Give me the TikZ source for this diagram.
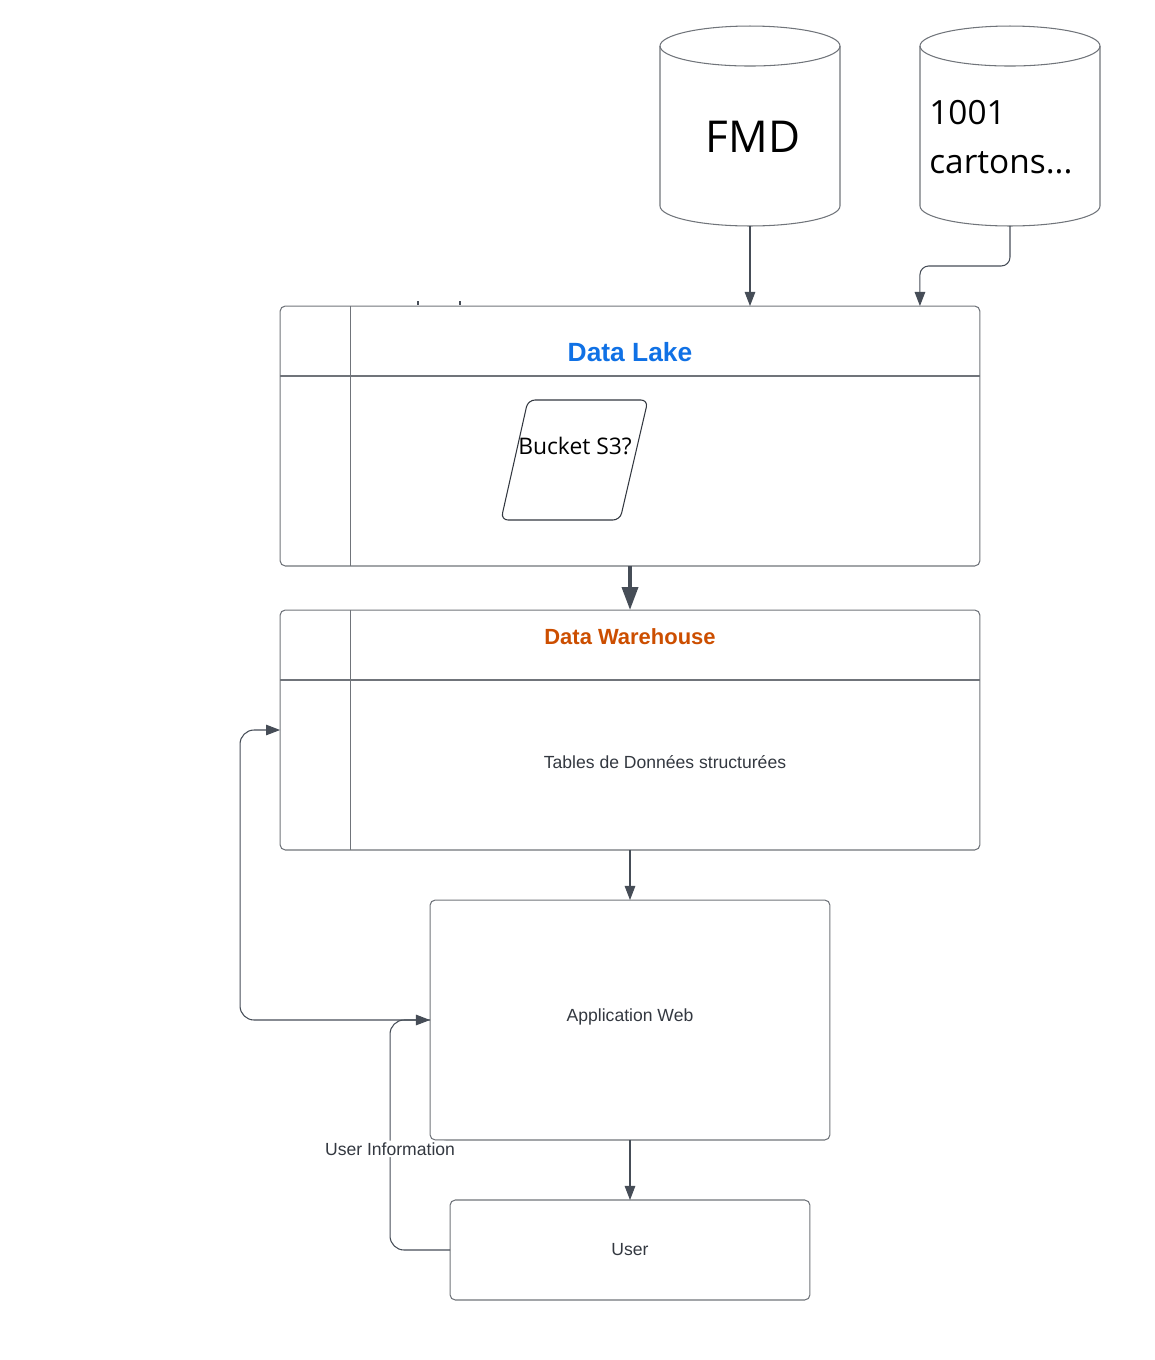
\documentclass[tikz,border=0pt]{standalone}
\usepackage{fontspec}
\setmainfont{Liberation Sans}
\newfontfamily\uifont{Open Sans}
\usetikzlibrary{arrows.meta}
\definecolor{lakeblue}{RGB}{16,113,229}
\definecolor{dwhorange}{RGB}{204,78,0}
\definecolor{boxline}{RGB}{112,116,122}
\definecolor{flowline}{RGB}{70,77,87}
\definecolor{txt}{RGB}{51,56,64}
\tikzset{
  % stile dei serbatoi in alto (il contorno si disegna dopo)
  dbtank/.style={
    rectangle, minimum width=3.6cm, minimum height=4cm, inner sep=0pt, outer sep=0pt,
    font=\uifont, text=black
  },
  % riquadri con intestazione
  lane/.style={
    draw=boxline, line width=0.6pt, rectangle, rounded corners=3pt,
    minimum width=14cm, inner sep=0pt, outer sep=0pt
  },
  plainbox/.style={
    draw=boxline, line width=0.6pt, rectangle, rounded corners=3pt,
    inner sep=0pt, outer sep=0pt, font=\fontsize{10}{12}\selectfont, text=txt
  },
  flow/.style={draw=flowline, line width=0.6pt, -{Triangle[length=8pt,width=6pt]}},
  bigflow/.style={draw=flowline, line width=2.2pt, -{Triangle[length=13pt,width=9pt]}},
  tag/.style={fill=white, inner sep=1pt, font=\fontsize{10}{12}\selectfont, text=txt}
}

\begin{document}
\begin{tikzpicture}[x=0.02cm, y=-0.02cm]
  \useasboundingbox (0,0) rectangle (1155,1360);

  % sorgenti
  \node[dbtank] (fmd) at (750,126) {};
  \node[dbtank] (cartons) at (1010,126) {};
  \foreach \t in {fmd,cartons} {
    \draw[boxline, line width=0.6pt] ([yshift=-0.4cm]\t.north west) -- ([yshift=0.4cm]\t.south west)
      arc[start angle=180, end angle=360, x radius=1.8cm, y radius=0.4cm]
      -- ([yshift=-0.4cm]\t.north east);
    \draw[boxline, line width=0.6pt] ([yshift=-0.4cm]\t.north) ellipse[x radius=1.8cm, y radius=0.4cm];
  }
  \node[font=\uifont\fontsize{25}{30}\selectfont, inner sep=0pt] (fmdtxt) at (753,137) {FMD};
  \node[anchor=north west, align=left, inner sep=0pt, font=\uifont\fontsize{19}{28}\selectfont]
    (cartonstxt) at (929,100) {1001\\cartons...};

  % Data Lake
  \node[lane, minimum height=5.2cm] (dlake) at (630,436) {};
  \draw[boxline, line width=0.6pt] ([xshift=1.4cm]dlake.north west) -- ([xshift=1.4cm]dlake.south west);
  \draw[boxline, line width=0.6pt] ([yshift=-1.4cm]dlake.north west) -- ([yshift=-1.4cm]dlake.north east);
  \node[text=lakeblue, font=\bfseries\fontsize{15}{18}\selectfont] (dlaketitle) at (630,352) {Data Lake};
  \draw[draw=txt, line width=0.6pt, rounded corners=4pt] (528,400) -- (648,400) -- (620,520) -- (501,520) -- cycle;
  \node[font=\uifont\fontsize{13}{16}\selectfont] (bucket) at (575,446) {Bucket S3?};
  \draw[draw=flowline, line width=1.2pt] (418,301) -- (418,305) (460,301) -- (460,305);

  % Data Warehouse
  \node[lane, minimum height=4.8cm] (dwh) at (630,730) {};
  \draw[boxline, line width=0.6pt] ([xshift=1.4cm]dwh.north west) -- ([xshift=1.4cm]dwh.south west);
  \draw[boxline, line width=0.6pt] ([yshift=-1.4cm]dwh.north west) -- ([yshift=-1.4cm]dwh.north east);
  \node[text=dwhorange, font=\bfseries\fontsize{12.5}{15}\selectfont] (dwhtitle) at (630,637) {Data Warehouse};
  \node[font=\fontsize{10}{12}\selectfont, text=txt] (tables) at (665,762) {Tables de Données structurées};

  % application et utilisateur
  \node[plainbox, minimum width=8cm, minimum height=4.8cm] (app) at (630,1020) {};
  \node[font=\fontsize{10}{12}\selectfont, text=txt] (apptxt) at (630,1017) {Application Web};
  \node[plainbox, minimum width=7.2cm, minimum height=2cm] (user) at (630,1250) {User};

  % flussi
  \draw[flow] (fmd.south) -- (fmd.south |- dlake.north);
  \draw[flow, rounded corners=5pt] (cartons.south) -- ++(0,40) -| ([xshift=-1.2cm]dlake.north east);
  \draw[bigflow] (dlake.south) -- (dwh.north);
  \draw[flow] (dwh.south) -- (app.north);
  \draw[flow] (app.south) -- (user.north);
  \draw[flow, rounded corners=8pt] (app.west) -- ++(-190,0) |- (dwh.west);
  \draw[flow, rounded corners=8pt] (user.west) -- ++(-60,0) |- node[tag, pos=0.22] (userinfo) {User Information} (app.west);
\end{tikzpicture}
\end{document}
